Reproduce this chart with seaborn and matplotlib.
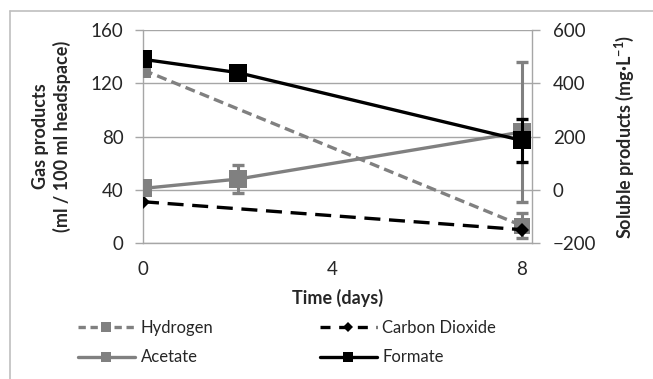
import matplotlib
matplotlib.use("Agg")
import matplotlib.pyplot as plt
import seaborn as sns
import pandas as pd
import numpy as np
from matplotlib.lines import Line2D

sns.set_theme(style="white")
plt.rcParams['font.family'] = ['Lato', 'DejaVu Sans']

# ---- data ----
gas_days = [0, 8]
hydrogen = [130, 13]
hydrogen_err_lo = [0, 9]
hydrogen_err_hi = [0, 9.5]
co2 = [31, 10]

sol_days = [0, 2, 8]
acetate = [5, 40, 217]
acetate_err = [0, 52, 263]
formate = [490, 440, 185]
formate_err = [0, 0, 81]

GRAY = "#808080"
BLACK = "#000000"
AXC = "#A6A6A6"
LW = 2.4

fig = plt.figure(figsize=(6.53, 3.79), dpi=100)
ax = fig.add_axes([143/653, 1 - 243/379, (532 - 143)/653, (243 - 30)/379])
ax2 = ax.twinx()

gas = pd.DataFrame({"day": gas_days, "Hydrogen": hydrogen, "Carbon Dioxide": co2})
sol = pd.DataFrame({"day": sol_days, "Acetate": acetate, "Formate": formate})

# gas products (left axis)
ax.errorbar(gas["day"], gas["Hydrogen"], yerr=[hydrogen_err_lo, hydrogen_err_hi],
            fmt="none", ecolor=GRAY, elinewidth=2.2, capsize=4.3, capthick=2.4, zorder=2)
sns.lineplot(data=gas, x="day", y="Hydrogen", ax=ax, color=GRAY, lw=LW,
             marker="s", markersize=11, markeredgewidth=0, zorder=3)
ax.lines[-1].set_dashes([3.0, 1.6])
sns.lineplot(data=gas, x="day", y="Carbon Dioxide", ax=ax, color=BLACK, lw=LW,
             marker="D", markersize=7, markeredgewidth=0, zorder=4)
ax.lines[-1].set_dashes([4.8, 2.6])

# soluble products (right axis)
ax2.errorbar(sol["day"], sol["Acetate"], yerr=acetate_err, fmt="none", ecolor=GRAY,
             elinewidth=2.2, capsize=4.3, capthick=2.4, zorder=2)
sns.lineplot(data=sol, x="day", y="Acetate", ax=ax2, color=GRAY, lw=LW,
             marker="s", markersize=13, markeredgewidth=0, zorder=3)
ax2.errorbar(sol["day"], sol["Formate"], yerr=formate_err, fmt="none", ecolor=BLACK,
             elinewidth=2.2, capsize=4.3, capthick=2.4, zorder=4)
sns.lineplot(data=sol, x="day", y="Formate", ax=ax2, color=BLACK, lw=LW,
             marker="s", markersize=13, markeredgewidth=0, zorder=5)

ax.set_xlim(0, 8.21)
ax.set_ylim(0, 160)
ax.set_yticks([0, 40, 80, 120, 160])
ax.set_xticks([0, 4, 8])
ax2.set_ylim(-200, 600)
ax2.set_yticks([-200, 0, 200, 400, 600])

ax.yaxis.grid(True, color=AXC, lw=1.0)
ax.set_axisbelow(True)
ax2.grid(False)
ax2.patch.set_visible(False)

for a in (ax, ax2):
    for s in a.spines.values():
        s.set_visible(False)
ax.spines["left"].set_visible(True)
ax.spines["bottom"].set_visible(True)
ax2.spines["right"].set_visible(True)
for s in (ax.spines["left"], ax.spines["bottom"], ax2.spines["right"]):
    s.set_color(AXC)
    s.set_linewidth(1.0)

ax.tick_params(axis="y", length=6, color=AXC, width=1, labelsize=13.5, pad=8, left=True)
ax.tick_params(axis="x", length=0, labelsize=13.5, pad=13)
ax2.tick_params(axis="y", length=6, color=AXC, width=1, labelsize=13.5, pad=9, right=True)

ax.set_xlabel("Time (days)", fontsize=13, fontweight="bold", labelpad=8)
ax.set_ylabel("Gas products\n(ml / 100 ml headspace)", fontsize=13, fontweight="bold",
              labelpad=14, linespacing=1.25)
ax2.set_ylabel("Soluble products (mg·L$^{\\mathregular{-1}}$)", fontsize=13, fontweight="bold",
               labelpad=12)

handles = [
    Line2D([], [], color=GRAY, lw=LW, dashes=[2.2, 1.4], marker="s", markersize=7, markeredgewidth=0),
    Line2D([], [], color=GRAY, lw=LW, marker="s", markersize=7, markeredgewidth=0),
    Line2D([], [], color=BLACK, lw=LW, dashes=[3.0, 2.6], marker="D", markersize=5.5, markeredgewidth=0),
    Line2D([], [], color=BLACK, lw=LW, marker="s", markersize=7, markeredgewidth=0),
]
labels = ["Hydrogen", "Acetate", "Carbon Dioxide", "Formate"]
fig.legend(handles, labels, ncol=2, loc="upper left", bbox_to_anchor=(78/653, 1 - 320/379),
           frameon=False, fontsize=12, handlelength=3.4, handletextpad=0.35,
           columnspacing=6.4, labelspacing=0.8, borderpad=0, borderaxespad=0)

# chart border (Excel frame)
fig.add_artist(Line2D([10/653, 10/653], [0, 1 - 11/379], color="#BFBFBF", lw=1.2))
fig.add_artist(Line2D([10/653, 1], [1 - 11/379, 1 - 11/379], color="#BFBFBF", lw=1.2))

fig.savefig("out.png", dpi=100)
